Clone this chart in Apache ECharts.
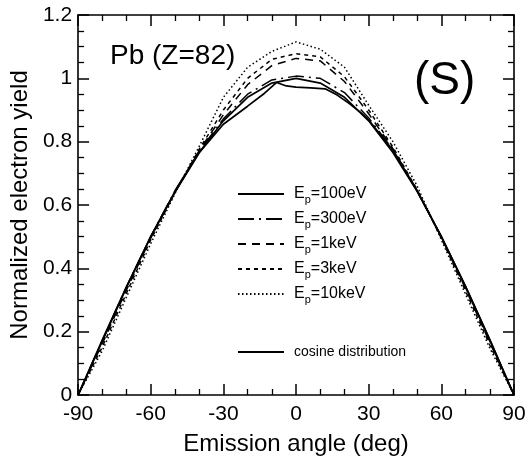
<!DOCTYPE html>
<html><head><meta charset="utf-8">
<script src="https://cdn.jsdelivr.net/npm/echarts@6/dist/echarts.min.js"></script>
<style>html,body{margin:0;padding:0;background:#fff}#c{width:531px;height:470px}</style>
</head><body><div id="c"></div>
<script>
// ---- data ----
const angles100 = [-90,-80,-70,-60,-50,-40,-30,-20,-13,-8,-4,0,6,12,17,22,27,30,40,50,60,70,80,90];
const ep100eV  = [0,0.17,0.34,0.5,0.64,0.765,0.855,0.912,0.953,0.987,0.976,0.972,0.970,0.967,0.947,0.92,0.89,0.868,0.773,0.645,0.5,0.343,0.175,0];
const angles   = [-90,-80,-70,-60,-50,-40,-30,-20,-10,0,10,20,30,40,50,60,70,80,90];
const ep300eV  = [0,0.172,0.342,0.5,0.645,0.77,0.872,0.95,0.995,1.007,1.0,0.955,0.875,0.775,0.645,0.5,0.34,0.17,0];
const ep1keV   = [0,0.162,0.332,0.495,0.642,0.772,0.885,0.98,1.04,1.063,1.055,0.99,0.888,0.778,0.645,0.498,0.335,0.165,0];
const ep3keV   = [0,0.152,0.322,0.49,0.64,0.776,0.9,1.0,1.06,1.078,1.068,1.005,0.9,0.783,0.648,0.495,0.328,0.158,0];
const ep10keV  = [0,0.14,0.31,0.478,0.636,0.785,0.94,1.035,1.085,1.115,1.092,1.035,0.915,0.8,0.66,0.49,0.318,0.148,0];
const cosineDist = [0,0.174,0.342,0.5,0.643,0.766,0.866,0.94,0.985,1.0,0.985,0.94,0.866,0.766,0.643,0.5,0.342,0.174,0];
const energyNames = ['100eV','300eV','1keV','3keV','10keV'];
const cosineName = 'cosine distribution';
const xTicks = {min:-90, max:90, interval:30};
const yTicks = {min:0, max:1.2, interval:0.2};

const FONT = "'Liberation Sans', Arial, Helvetica, sans-serif";
const pair = (xs, ys) => xs.map((x,i)=>[x, ys[i]]);

const chart = echarts.init(document.getElementById('c'), null, {renderer:'canvas'});
const lineBase = (name, data, type, width) => ({
  name, type:'line', data, symbol:'none', showSymbol:false, smooth:false, silent:true,
  lineStyle:{color:'#000', width:width, type:type},
  itemStyle:{color:'#000'}
});
const mk = (extra, split) => Object.assign({
  type:'value',
  axisLine:{show:true, onZero:false, lineStyle:{color:'#000', width:1.6}},
  axisTick:{show:true, inside:true, length:11, lineStyle:{color:'#000', width:1.5}},
  minorTick:{show:true, splitNumber:split, length:6, lineStyle:{color:'#000', width:1.3}},
  splitLine:{show:false}
}, extra);
chart.setOption({
  animation:false,
  backgroundColor:'#fff',
  grid:{left:77, right:17, top:15, bottom:75},
  xAxis:[
    mk({position:'bottom', min:xTicks.min, max:xTicks.max, interval:xTicks.interval,
      name:'Emission angle (deg)', nameLocation:'middle', nameGap:37,
      nameTextStyle:{fontFamily:FONT, fontSize:24, color:'#000'},
      axisLabel:{fontFamily:FONT, fontSize:21, color:'#000', margin:9}}, 3),
    mk({position:'top', min:xTicks.min, max:xTicks.max, interval:xTicks.interval,
      axisLabel:{show:false}}, 3)
  ],
  yAxis:[
    mk({position:'left', min:yTicks.min, max:yTicks.max, interval:yTicks.interval,
      name:'Normalized electron yield', nameLocation:'middle', nameGap:38,
      nameTextStyle:{fontFamily:FONT, fontSize:24, color:'#000'},
      axisLabel:{fontFamily:FONT, fontSize:21, color:'#000', margin:6}}, 4),
    mk({position:'right', min:yTicks.min, max:yTicks.max, interval:yTicks.interval,
      axisLabel:{show:false}}, 4)
  ],
  legend:[
    {data:energyNames, orient:'vertical', left:232, top:181, itemWidth:46, itemHeight:14, itemGap:6,
     selectedMode:false, itemStyle:{opacity:0},
     textStyle:{fontFamily:FONT, color:'#000', padding:[0,0,0,5],
       rich:{e:{fontFamily:FONT, fontSize:16, color:'#000'},
             p:{fontFamily:FONT, fontSize:11, color:'#000', padding:[11,0,0,0]},
             v:{fontFamily:FONT, fontSize:16, color:'#000'}}},
     formatter:n=>'{e|E}{p|p}{v|=' + n + '}'},
    {data:[cosineName], orient:'vertical', left:232, top:340, itemWidth:46, itemHeight:14,
     selectedMode:false, itemStyle:{opacity:0},
     textStyle:{fontFamily:FONT, fontSize:14, color:'#000', padding:[0,0,6,5]}}
  ],
  graphic:[
    {type:'text', left:110, top:42, style:{text:'Pb (Z=82)', font:'28px '+FONT, fill:'#000'}},
    {type:'text', left:414, top:58, style:{text:'(S)', font:'46px '+FONT, fill:'#000'}}
  ],
  series:[
    lineBase('100eV', pair(angles100, ep100eV), 'solid', 1.7),
    lineBase('300eV', pair(angles, ep300eV), [16,5,2,5], 1.5),
    lineBase('1keV', pair(angles, ep1keV), [8,6], 1.5),
    lineBase('3keV', pair(angles, ep3keV), [4,4], 1.5),
    lineBase('10keV', pair(angles, ep10keV), [1.5,2.5], 1.5),
    lineBase(cosineName, pair(angles, cosineDist), 'solid', 1.7)
  ]
});
</script></body></html>
